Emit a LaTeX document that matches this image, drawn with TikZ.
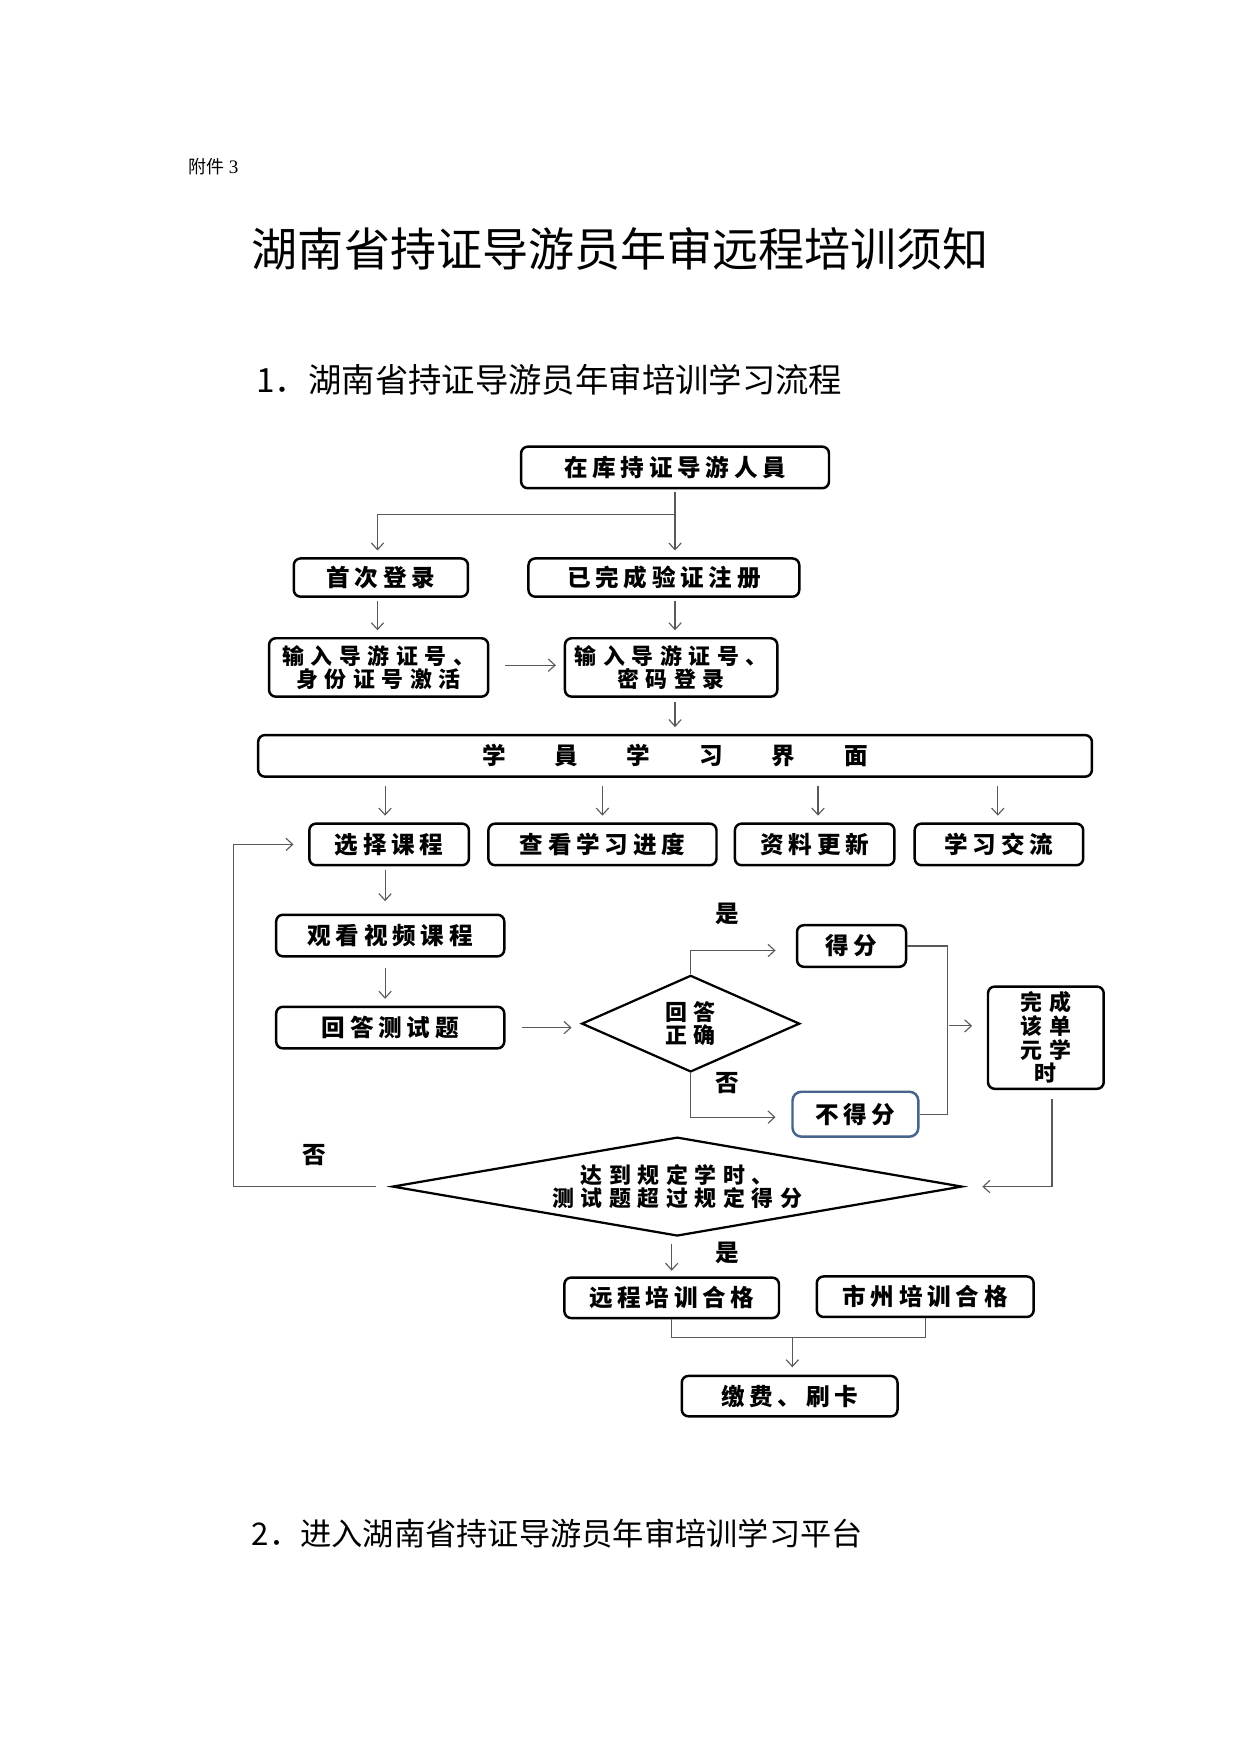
\documentclass[tikz,border=0pt]{standalone}
\usepackage{fontspec}
\usetikzlibrary{shapes.geometric,arrows.meta,calc}
\newfontfamily\cjk{Noto Sans CJK SC}
\newfontfamily\cjkls{Noto Sans CJK SC}[LetterSpace=20]
\newfontfamily\cjkml{Noto Sans CJK SC}[LetterSpace=30]
\newfontfamily\serifdigit{Liberation Serif}
\definecolor{lncol}{gray}{0.35}
\definecolor{bluebd}{RGB}{70,100,140}
\begin{document}
\begin{tikzpicture}[x=1pt,y=-1pt,
  bx/.style={draw=black, line width=2.2pt, rounded corners=6pt, inner sep=0pt, align=center,
    font=\fontsize{21}{21}\selectfont\cjkls\bfseries},
  mlt/.style={font=\fontsize{19.5}{21}\selectfont\cjkml\bfseries},
  dm/.style={diamond, draw=black, line width=2pt, inner sep=0pt, align=center,
    font=\fontsize{19.5}{21}\selectfont\cjkml\bfseries},
  ln/.style={draw=lncol, line width=1pt},
  ar/.style={ln, -{Straight Barb[length=6pt,width=11pt]}},
  lbl/.style={inner sep=0pt, font=\fontsize{21}{21}\selectfont\cjk\bfseries},
  hd/.style={anchor=west, inner sep=0pt}
]
\fill[white] (0,0) rectangle (1104,1561);
\useasboundingbox (0,0) rectangle (1104,1561);

% headings
\node[hd, font=\fontsize{16}{16}\selectfont\cjk] (fj) at (168,148) {附件 {\serifdigit\fontsize{17}{17}\selectfont 3}};
\node[hd, font=\fontsize{41}{41}\selectfont\cjk] (title) at (224,221.5) {湖南省持证导游员年审远程培训须知};
\node[hd, font=\fontsize{29.7}{30}\selectfont\cjk] (s1) at (228,338) {1．湖南省持证导游员年审培训学习流程};
\node[hd, font=\fontsize{27.8}{28}\selectfont\cjk] (s2) at (224,1364.5) {2．进入湖南省持证导游员年审培训学习平台};

\begin{scope}[xshift=1.38pt, x=0.994pt]
% boxes
\node[bx, minimum width=274pt, minimum height=37pt] (A) at (603,416) {在库持证导游人員};
\node[bx, minimum width=155pt, minimum height=34pt] (B1) at (339.6,514) {首次登录};
\node[bx, minimum width=241pt, minimum height=34pt] (B2) at (593,514) {已完成验证注册};
\node[bx, mlt, minimum width=195pt, minimum height=52pt] (C1) at (337.6,594) {输入导游证号、\\身份证号激活};
\node[bx, mlt, minimum width=189pt, minimum height=52pt] (C2) at (599.5,594) {输入导游证号、\\密码登录};
\node[bx, minimum width=742pt, minimum height=37pt, font=\fontsize{21}{21}\selectfont\cjk\bfseries] (D) at (603,672.7)
  {学\hspace{43.5pt}員\hspace{43.5pt}学\hspace{43.5pt}习\hspace{43.5pt}界\hspace{43.5pt}面};
\node[bx, minimum width=142pt, minimum height=37pt] (E1) at (347,751.5) {选择课程};
\node[bx, minimum width=203pt, minimum height=37pt] (E2) at (538,751.5) {查看学习进度};
\node[bx, minimum width=142pt, minimum height=37pt] (E3) at (728,751.5) {资料更新};
\node[bx, minimum width=150pt, minimum height=37pt] (E4) at (893,751.5) {学习交流};
\node[bx, minimum width=203pt, minimum height=37pt] (F) at (348,832.6) {观看视频课程};
\node[bx, minimum width=203pt, minimum height=37pt] (G) at (348,914.5) {回答测试题};
\node[dm, aspect=2.27, minimum width=194pt, minimum height=86pt] (H) at (617,911) {回答\\正确};
\node[bx, minimum width=97pt, minimum height=37pt] (I1) at (761,841.9) {得分};
\node[bx, draw=bluebd, rounded corners=8pt, minimum width=112pt, minimum height=40pt] (I2) at (764.5,991.6) {不得分};
\node[bx, mlt, minimum width=103pt, minimum height=91pt] (J) at (935,923.5) {完成\\该单\\元学\\时};
\node[dm, aspect=5.8, minimum width=507pt, minimum height=88pt] (K) at (605,1056) {达到规定学时、\\测试题超过规定得分};
\node[bx, minimum width=191pt, minimum height=36pt] (L1) at (600,1155) {远程培训合格};
\node[bx, minimum width=193pt, minimum height=36pt] (L2) at (827,1154) {市州培训合格};
\node[bx, minimum width=192pt, minimum height=36pt] (M) at (705.6,1242.5) {缴费、刷卡};

% labels
\node[lbl] (yes1) at (650,813) {是};
\node[lbl] (no1) at (650,964) {否};
\node[lbl] (no2) at (279.7,1028) {否};
\node[lbl] (yes2) at (650,1115) {是};

% helper coordinates
\path (A.south) ++(0,22.4) coordinate (br);
\coordinate (vr) at (846.6,0);
\coordinate (vm) at (846.6,913);
\coordinate (lp) at (207.8,0);
\coordinate (jn) at (0,1190);

% connectors
\draw[ar, shorten <=2pt, shorten >=6pt] (A.south) -- (A.south |- B2.north);
\draw[ar, shorten >=6pt] (br) -| ([xshift=-3pt]B1.north);
\draw[ar, shorten <=3pt, shorten >=6pt] ([xshift=-3pt]B1.south) -- ([xshift=-3pt]B1.south |- C1.north);
\draw[ar, shorten <=3pt, shorten >=6pt] (A.south |- B2.south) -- (A.south |- C2.north);
\draw[ar, shorten <=14pt, shorten >=7pt] ([yshift=2pt]C1.east) -- ([yshift=2pt]C2.west);
\draw[ar, shorten <=4pt, shorten >=6pt] (A.south |- C2.south) -- (A.south |- D.north);
\draw[ar, shorten <=7pt, shorten >=6pt] ([xshift=-3.6pt]E1.north |- D.south) -- ([xshift=-3.6pt]E1.north);
\draw[ar, shorten <=7pt, shorten >=6pt] (E2.north |- D.south) -- (E2.north);
\draw[ar, shorten <=7pt, shorten >=6pt] ([xshift=3pt]E3.north |- D.south) -- ([xshift=3pt]E3.north);
\draw[ar, shorten <=7pt, shorten >=6pt] ([xshift=-1pt]E4.north |- D.south) -- ([xshift=-1pt]E4.north);
\draw[ar, shorten <=3pt, shorten >=11pt] ([xshift=-3.6pt]E1.south) -- ([xshift=-3.6pt]E1.south |- F.north);
\draw[ar, shorten <=9pt, shorten >=6pt] ([xshift=-4.6pt]F.south) -- ([xshift=-4.6pt]F.south |- G.north);
\draw[ar, shorten <=15pt, shorten >=8pt] (G.east) -- (G.east -| H.west);
\draw[ar, shorten >=18pt] (H.north) |- ([yshift=-4pt]I1.west);
\draw[ar, shorten >=14pt] (H.south) |- ([yshift=-2.6pt]I2.west);
\draw[ln] (I1.east) -| (vr |- I2.east) -- (I2.east);
\draw[ar, shorten <=2pt, shorten >=13pt] (vm) -- (vm -| J.west);
\draw[ar, shorten <=8pt, shorten >=17pt] ([xshift=5.5pt]J.south) |- (K.east);
\draw[ar, shorten <=14pt, shorten >=13pt] (K.west) -- (lp |- K.west) |- (E1.west);
\draw[ar, shorten <=6pt, shorten >=5pt] (L1.north |- K.south) -- (L1.north);
\draw[ln] (L1.south) -- (L1.south |- jn) -| (L2.south);
\draw[ar, shorten >=6.6pt] ([xshift=2.4pt]M.north |- jn) -- ([xshift=2.4pt]M.north);
\end{scope}
\end{tikzpicture}
\end{document}
